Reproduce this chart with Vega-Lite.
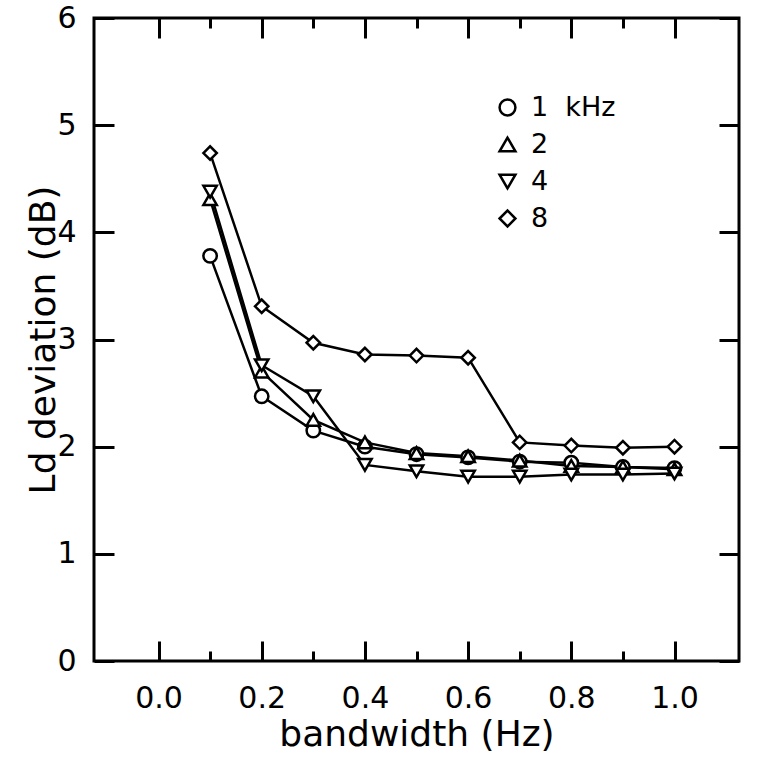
{
  "$schema": "https://vega.github.io/schema/vega-lite/v6.json",
  "width": 645,
  "height": 643,
  "autosize": {"type": "none"},
  "padding": {"left": 94, "top": 18, "right": 19, "bottom": 97},
  "background": "white",
  "config": {
    "view": {"stroke": "black", "strokeWidth": 3},
    "font": "DejaVu Sans",
    "axis": {
      "domain": false,
      "grid": false,
      "ticks": true,
      "zindex": 1,
      "tickColor": "black",
      "tickWidth": 3,
      "labelColor": "black",
      "titleColor": "black",
      "labelFont": "DejaVu Sans",
      "titleFont": "DejaVu Sans",
      "titleFontWeight": "normal"
    }
  },
  "data": {
    "values": [
      {"bw": 0.1, "dev": 3.78, "freq": "1\u00a0\u00a0kHz"},
      {"bw": 0.2, "dev": 2.47, "freq": "1\u00a0\u00a0kHz"},
      {"bw": 0.3, "dev": 2.15, "freq": "1\u00a0\u00a0kHz"},
      {"bw": 0.4, "dev": 2.00, "freq": "1\u00a0\u00a0kHz"},
      {"bw": 0.5, "dev": 1.93, "freq": "1\u00a0\u00a0kHz"},
      {"bw": 0.6, "dev": 1.90, "freq": "1\u00a0\u00a0kHz"},
      {"bw": 0.7, "dev": 1.86, "freq": "1\u00a0\u00a0kHz"},
      {"bw": 0.8, "dev": 1.85, "freq": "1\u00a0\u00a0kHz"},
      {"bw": 0.9, "dev": 1.81, "freq": "1\u00a0\u00a0kHz"},
      {"bw": 1.0, "dev": 1.80, "freq": "1\u00a0\u00a0kHz"},
      {"bw": 0.1, "dev": 4.31, "freq": "2"},
      {"bw": 0.2, "dev": 2.70, "freq": "2"},
      {"bw": 0.3, "dev": 2.25, "freq": "2"},
      {"bw": 0.4, "dev": 2.04, "freq": "2"},
      {"bw": 0.5, "dev": 1.94, "freq": "2"},
      {"bw": 0.6, "dev": 1.91, "freq": "2"},
      {"bw": 0.7, "dev": 1.87, "freq": "2"},
      {"bw": 0.8, "dev": 1.82, "freq": "2"},
      {"bw": 0.9, "dev": 1.81, "freq": "2"},
      {"bw": 1.0, "dev": 1.79, "freq": "2"},
      {"bw": 0.1, "dev": 4.38, "freq": "4"},
      {"bw": 0.2, "dev": 2.76, "freq": "4"},
      {"bw": 0.3, "dev": 2.47, "freq": "4"},
      {"bw": 0.4, "dev": 1.83, "freq": "4"},
      {"bw": 0.5, "dev": 1.77, "freq": "4"},
      {"bw": 0.6, "dev": 1.72, "freq": "4"},
      {"bw": 0.7, "dev": 1.72, "freq": "4"},
      {"bw": 0.8, "dev": 1.74, "freq": "4"},
      {"bw": 0.9, "dev": 1.74, "freq": "4"},
      {"bw": 1.0, "dev": 1.75, "freq": "4"},
      {"bw": 0.1, "dev": 4.74, "freq": "8"},
      {"bw": 0.2, "dev": 3.31, "freq": "8"},
      {"bw": 0.3, "dev": 2.97, "freq": "8"},
      {"bw": 0.4, "dev": 2.86, "freq": "8"},
      {"bw": 0.5, "dev": 2.85, "freq": "8"},
      {"bw": 0.6, "dev": 2.83, "freq": "8"},
      {"bw": 0.7, "dev": 2.04, "freq": "8"},
      {"bw": 0.8, "dev": 2.01, "freq": "8"},
      {"bw": 0.9, "dev": 1.99, "freq": "8"},
      {"bw": 1.0, "dev": 2.00, "freq": "8"}
    ]
  },
  "layer": [
    {
      "mark": {"type": "line", "color": "black", "strokeWidth": 2.5},
      "encoding": {
        "x": {
          "field": "bw", "type": "quantitative",
          "scale": {"domain": [-0.125, 1.125], "nice": false, "zero": false},
          "axis": {
            "orient": "bottom",
            "title": "bandwidth (Hz)",
            "titleFontSize": 36,
            "titlePadding": 4,
            "values": [0, 0.1, 0.2, 0.3, 0.4, 0.5, 0.6, 0.7, 0.8, 0.9, 1.0],
            "format": ".1f",
            "labelExpr": "round(datum.value*10)%2==1 ? '' : ['', datum.label]",
            "labelFontSize": 30,
            "labelLineHeight": 32,
            "labelPadding": 10,
            "tickSize": {"condition": {"test": "round(datum.value*10)%2==1", "value": -10}, "value": -20}
          }
        },
        "y": {
          "field": "dev", "type": "quantitative",
          "scale": {"domain": [0, 6], "nice": false},
          "axis": {
            "orient": "left",
            "title": "Ld deviation (dB)",
            "titleFontSize": 36,
            "titlePadding": -6,
            "values": [0, 1, 2, 3, 4, 5, 6],
            "labelExpr": "datum.label + '\u2009\u2800'",
            "labelFontSize": 30,
            "labelPadding": 10,
            "tickSize": -20
          }
        },
        "detail": {"field": "freq"}
      }
    },
    {
      "mark": {"type": "point", "fill": "white", "stroke": "black", "strokeWidth": 2.5, "opacity": 1, "filled": false, "size": 180},
      "encoding": {
        "x": {
          "field": "bw", "type": "quantitative",
          "axis": {
            "orient": "top",
            "title": null,
            "labels": false,
            "values": [0, 0.1, 0.2, 0.3, 0.4, 0.5, 0.6, 0.7, 0.8, 0.9, 1.0],
            "tickSize": {"condition": {"test": "round(datum.value*10)%2==1", "value": -10}, "value": -20}
          }
        },
        "y": {
          "field": "dev", "type": "quantitative",
          "axis": {
            "orient": "right",
            "title": null,
            "labels": false,
            "values": [0, 1, 2, 3, 4, 5, 6],
            "tickSize": -20
          }
        },
        "shape": {
          "field": "freq", "type": "nominal",
          "scale": {
            "domain": ["1\u00a0\u00a0kHz", "2", "4", "8"],
            "range": ["circle", "triangle-up", "triangle-down", "diamond"]
          },
          "legend": {
            "orient": "none",
            "legendX": 400,
            "legendY": 76,
            "title": null,
            "symbolSize": 250,
            "symbolStrokeWidth": 2.5,
            "labelFontSize": 27,
            "labelColor": "black",
            "labelFont": "DejaVu Sans",
            "labelOffset": 10,
            "rowPadding": 9
          }
        }
      }
    }
  ],
  "resolve": {"axis": {"x": "independent", "y": "independent"}}
}
